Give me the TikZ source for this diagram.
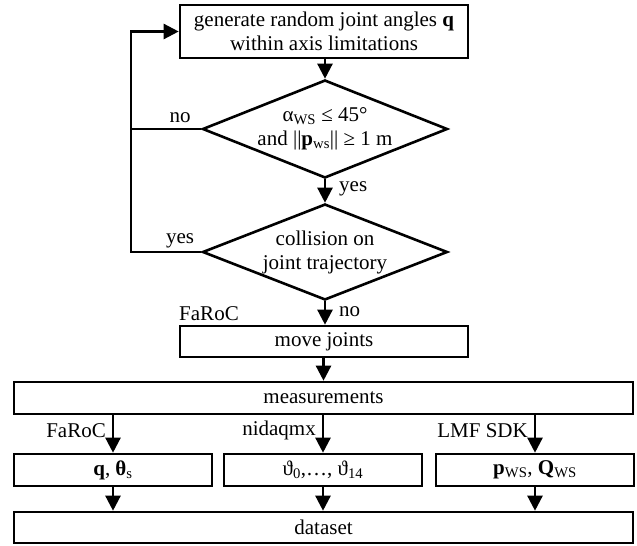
\documentclass[tikz,border=0pt]{standalone}
\usepackage{fontspec}
\setmainfont{Liberation Serif}
\usetikzlibrary{arrows.meta,shapes.geometric}
\begin{document}
\begin{tikzpicture}[x=1pt,y=-1pt,
  font=\fontsize{21}{24}\selectfont,
  box/.style={draw,line width=2.6pt,rectangle,inner sep=0pt,align=center},
  dia/.style={draw,line width=2.6pt,diamond,aspect=2.5,inner sep=0pt,align=center,
    minimum width=245pt,minimum height=98pt},
  arr/.style={line width=2.4pt,-{Triangle[length=15pt,width=15pt]}},
  lin/.style={line width=2.4pt},
  lab/.style={inner sep=1pt}]
\useasboundingbox (0,0) rectangle (637,546);
\node[box,minimum width=288pt,minimum height=53pt] (gen) at (324,31.5)
  {generate random joint angles \textbf{q}\\within axis limitations};
\node[dia] (d1) at (325,129)
  {α\textsubscript{WS}~≤~45°\\and ||\textbf{p}\textsubscript{ws}||~≥~1~m};
\node[dia,minimum height=96pt] (d2) at (325,252)
  {collision on\\joint trajectory};
\node[box,minimum width=288pt,minimum height=31pt] (mv) at (324,341.5) {move joints};
\node[box,minimum width=619pt,minimum height=32pt] (meas) at (323.5,398) {measurements};
\node[box,minimum width=198pt,minimum height=32pt] (b1) at (113,470)
  {\textbf{q}, \textbf{θ}\textsubscript{s}};
\node[box,minimum width=198pt,minimum height=32pt] (b2) at (323,470)
  {ϑ\textsubscript{0},…, ϑ\textsubscript{14}};
\node[box,minimum width=198pt,minimum height=32pt] (b3) at (535,470)
  {\textbf{p}\textsubscript{WS}, \textbf{Q}\textsubscript{WS}};
\node[box,minimum width=619pt,minimum height=31pt] (ds) at (323.5,527.5) {dataset};
\coordinate (lx) at (131,0);
% main flow
\draw[arr] (gen.south -| d1.north) -- (d1.north);
\draw[arr] (d1.south) -- node[lab,right,xshift=12pt,pos=0.4] {yes} (d2.north);
\draw[arr] (d2.south) -- node[lab,right,xshift=12pt,pos=0.45] {no} (d2.south |- mv.north);
\node[lab] (faroc1) at (209,314) {FaRoC};
\draw[arr] (mv.south -| meas.north) -- (meas.north);
% loop back
\draw[arr] (d2.west) -- node[lab,above,pos=0.3,yshift=2pt] {yes} (d2.west -| lx) |- (gen.west);
\draw[lin] (d1.west) -- node[lab,above,pos=0.3,yshift=4pt] {no} (d1.west -| lx);
% measurements to sub boxes
\draw[arr] (meas.south -| b1.north) -- node[lab,left,pos=0.4,xshift=-5pt] {FaRoC} (b1.north);
\draw[arr] (meas.south -| b2.north) -- node[lab,left,pos=0.4,xshift=-5pt] {nidaqmx} (b2.north);
\draw[arr] (meas.south -| b3.north) -- node[lab,left,pos=0.4,xshift=-5pt] {LMF SDK} (b3.north);
% sub boxes to dataset
\draw[arr] (b1.south) -- (b1.south |- ds.north);
\draw[arr] (b2.south) -- (b2.south |- ds.north);
\draw[arr] (b3.south) -- (b3.south |- ds.north);
\end{tikzpicture}
\end{document}
